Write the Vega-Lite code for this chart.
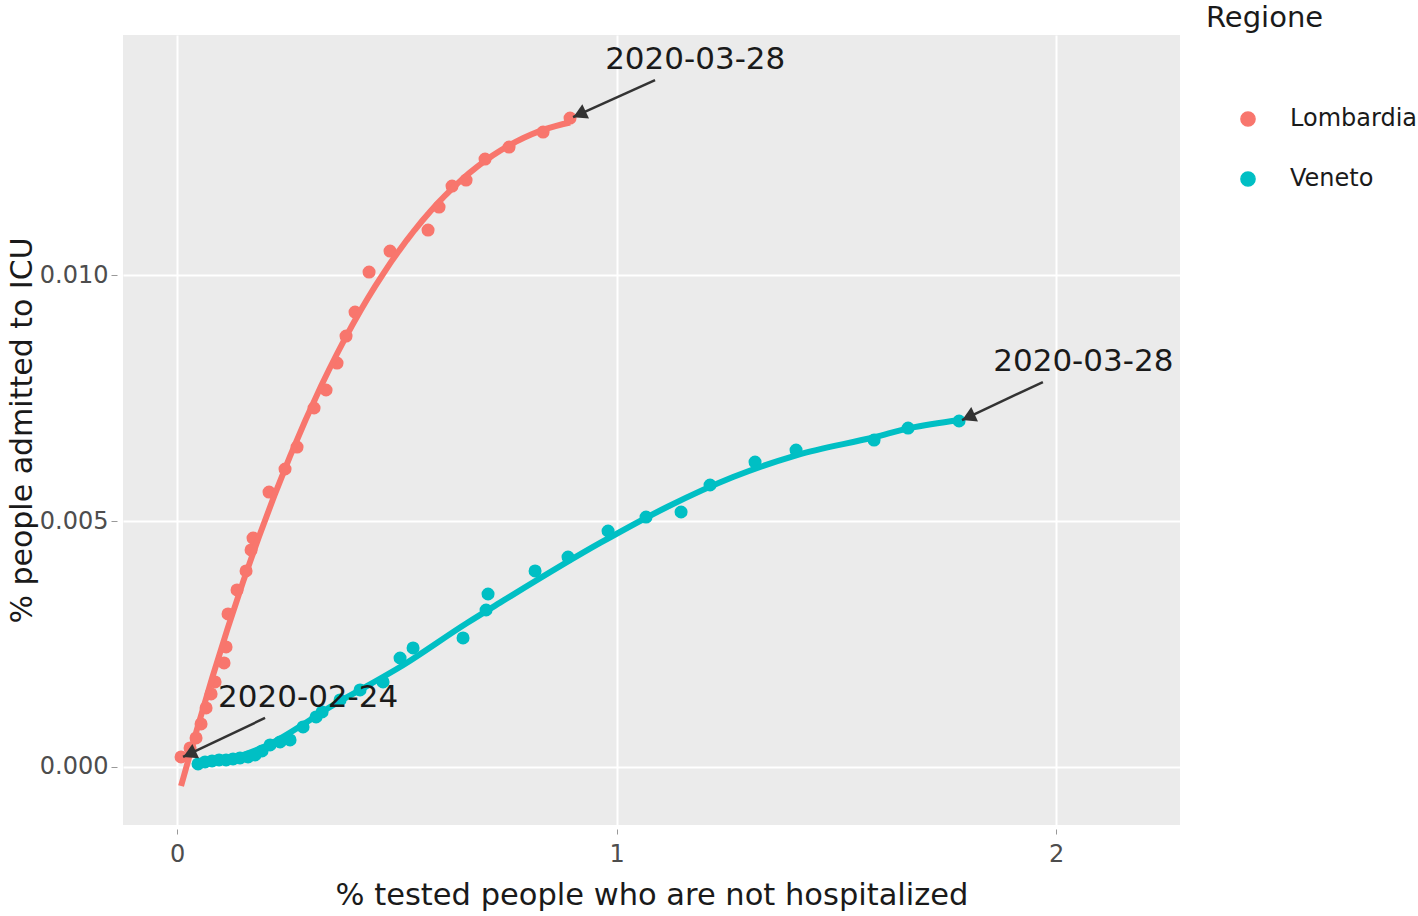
{
  "$schema": "https://vega.github.io/schema/vega-lite/v6.json",
  "width": 1057,
  "height": 790,
  "autosize": {"type": "none"},
  "padding": {"left": 123, "top": 35, "right": 238, "bottom": 91},
  "background": "white",
  "config": {
    "font": "DejaVu Sans",
    "view": {"fill": "#EBEBEB", "stroke": null},
    "axis": {"domain": false, "grid": true, "gridColor": "white", "gridWidth": 2, "tickColor": "#999999", "labelColor": "#4D4D4D", "titleColor": "#1a1a1a", "titleFontWeight": "normal"}
  },
  "datasets": {
    "pts": [
      {"Regione": "Lombardia", "x": 0.0091, "y": 0.000203},
      {"Regione": "Lombardia", "x": 0.0296, "y": 0.000386},
      {"Regione": "Lombardia", "x": 0.0432, "y": 0.000589},
      {"Regione": "Lombardia", "x": 0.0546, "y": 0.000874},
      {"Regione": "Lombardia", "x": 0.0660, "y": 0.001199},
      {"Regione": "Lombardia", "x": 0.0774, "y": 0.001484},
      {"Regione": "Lombardia", "x": 0.0865, "y": 0.001728},
      {"Regione": "Lombardia", "x": 0.1069, "y": 0.002114},
      {"Regione": "Lombardia", "x": 0.1115, "y": 0.002439},
      {"Regione": "Lombardia", "x": 0.1160, "y": 0.003110},
      {"Regione": "Lombardia", "x": 0.1365, "y": 0.003598},
      {"Regione": "Lombardia", "x": 0.1570, "y": 0.003984},
      {"Regione": "Lombardia", "x": 0.1684, "y": 0.004411},
      {"Regione": "Lombardia", "x": 0.1729, "y": 0.004654},
      {"Regione": "Lombardia", "x": 0.2093, "y": 0.005589},
      {"Regione": "Lombardia", "x": 0.2457, "y": 0.006057},
      {"Regione": "Lombardia", "x": 0.2730, "y": 0.006504},
      {"Regione": "Lombardia", "x": 0.3117, "y": 0.007297},
      {"Regione": "Lombardia", "x": 0.3390, "y": 0.007663},
      {"Regione": "Lombardia", "x": 0.3640, "y": 0.008211},
      {"Regione": "Lombardia", "x": 0.3845, "y": 0.008760},
      {"Regione": "Lombardia", "x": 0.4050, "y": 0.009248},
      {"Regione": "Lombardia", "x": 0.4369, "y": 0.010061},
      {"Regione": "Lombardia", "x": 0.4846, "y": 0.010488},
      {"Regione": "Lombardia", "x": 0.5711, "y": 0.010915},
      {"Regione": "Lombardia", "x": 0.5961, "y": 0.011382},
      {"Regione": "Lombardia", "x": 0.6257, "y": 0.011809},
      {"Regione": "Lombardia", "x": 0.6576, "y": 0.011931},
      {"Regione": "Lombardia", "x": 0.7008, "y": 0.012358},
      {"Regione": "Lombardia", "x": 0.7554, "y": 0.012602},
      {"Regione": "Lombardia", "x": 0.8328, "y": 0.012907},
      {"Regione": "Lombardia", "x": 0.8942, "y": 0.013191},
      {"Regione": "Veneto", "x": 0.0478, "y": 0.000061},
      {"Regione": "Veneto", "x": 0.0637, "y": 0.000102},
      {"Regione": "Veneto", "x": 0.0796, "y": 0.000122},
      {"Regione": "Veneto", "x": 0.0956, "y": 0.000142},
      {"Regione": "Veneto", "x": 0.1115, "y": 0.000142},
      {"Regione": "Veneto", "x": 0.1274, "y": 0.000163},
      {"Regione": "Veneto", "x": 0.1433, "y": 0.000183},
      {"Regione": "Veneto", "x": 0.1615, "y": 0.000203},
      {"Regione": "Veneto", "x": 0.1775, "y": 0.000244},
      {"Regione": "Veneto", "x": 0.1934, "y": 0.000325},
      {"Regione": "Veneto", "x": 0.2116, "y": 0.000447},
      {"Regione": "Veneto", "x": 0.2344, "y": 0.000508},
      {"Regione": "Veneto", "x": 0.2571, "y": 0.000549},
      {"Regione": "Veneto", "x": 0.2867, "y": 0.000813},
      {"Regione": "Veneto", "x": 0.3163, "y": 0.001016},
      {"Regione": "Veneto", "x": 0.3300, "y": 0.001118},
      {"Regione": "Veneto", "x": 0.3709, "y": 0.001362},
      {"Regione": "Veneto", "x": 0.4164, "y": 0.001565},
      {"Regione": "Veneto", "x": 0.4687, "y": 0.001728},
      {"Regione": "Veneto", "x": 0.5074, "y": 0.002215},
      {"Regione": "Veneto", "x": 0.5370, "y": 0.002419},
      {"Regione": "Veneto", "x": 0.6507, "y": 0.002622},
      {"Regione": "Veneto", "x": 0.7031, "y": 0.003191},
      {"Regione": "Veneto", "x": 0.7076, "y": 0.003516},
      {"Regione": "Veneto", "x": 0.8146, "y": 0.003984},
      {"Regione": "Veneto", "x": 0.8896, "y": 0.004268},
      {"Regione": "Veneto", "x": 0.9807, "y": 0.004797},
      {"Regione": "Veneto", "x": 1.0671, "y": 0.005081},
      {"Regione": "Veneto", "x": 1.1468, "y": 0.005183},
      {"Regione": "Veneto", "x": 1.2127, "y": 0.005732},
      {"Regione": "Veneto", "x": 1.3151, "y": 0.006199},
      {"Regione": "Veneto", "x": 1.4084, "y": 0.006443},
      {"Regione": "Veneto", "x": 1.5859, "y": 0.006646},
      {"Regione": "Veneto", "x": 1.6633, "y": 0.006890},
      {"Regione": "Veneto", "x": 1.7793, "y": 0.007033}
    ],
    "venetoFit": [
      {"Regione": "Veneto", "x": 0.0478, "y": 0.000041},
      {"Regione": "Veneto", "x": 0.1365, "y": 0.000203},
      {"Regione": "Veneto", "x": 0.2116, "y": 0.000467},
      {"Regione": "Veneto", "x": 0.3026, "y": 0.000955},
      {"Regione": "Veneto", "x": 0.3481, "y": 0.001220},
      {"Regione": "Veneto", "x": 0.4391, "y": 0.001680},
      {"Regione": "Veneto", "x": 0.5074, "y": 0.002033},
      {"Regione": "Veneto", "x": 0.6598, "y": 0.002927},
      {"Regione": "Veneto", "x": 0.7349, "y": 0.003340},
      {"Regione": "Veneto", "x": 0.9625, "y": 0.004553},
      {"Regione": "Veneto", "x": 1.1149, "y": 0.005285},
      {"Regione": "Veneto", "x": 1.2651, "y": 0.005894},
      {"Regione": "Veneto", "x": 1.4107, "y": 0.006341},
      {"Regione": "Veneto", "x": 1.5882, "y": 0.006707},
      {"Regione": "Veneto", "x": 1.6678, "y": 0.006890},
      {"Regione": "Veneto", "x": 1.7816, "y": 0.007053}
    ],
    "ann": [
      {"label": "2020-03-28", "tx": 1.0876, "ty": 0.013963, "hx": 0.901, "hy": 0.01321, "ax": 0.9156, "ay": 0.013269, "lx": 0.974, "ly": 0.01437},
      {"label": "2020-03-28", "tx": 1.970, "ty": 0.007825, "hx": 1.786, "hy": 0.007053, "ax": 1.8006, "ay": 0.007112, "lx": 1.857, "ly": 0.008232},
      {"label": "2020-02-24", "tx": 0.2002, "ty": 0.000996, "hx": 0.01365, "hy": 0.000203, "ax": 0.0283, "ay": 0.000262, "lx": 0.0933, "ly": 0.001402}
    ]
  },
  "layer": [
    {
      "data": {"name": "pts"},
      "mark": {"type": "point", "filled": true, "opacity": 1, "size": 170},
      "encoding": {
        "x": {"field": "x", "type": "quantitative", "title": "% tested people who are not hospitalized",
              "scale": {"domain": [-0.123, 2.282], "nice": false, "zero": false},
              "axis": {"values": [0, 1, 2], "format": ".0f", "labelFontSize": 24, "titleFontSize": 30.5, "tickSize": 5, "offset": 4, "labelPadding": 8, "titlePadding": 14}},
        "y": {"field": "y", "type": "quantitative", "title": "% people admitted to ICU",
              "scale": {"domain": [-0.00118, 0.01488], "nice": false, "zero": false},
              "axis": {"values": [0, 0.005, 0.01], "format": ".3f", "labelFontSize": 24, "titleFontSize": 30, "tickSize": 6, "offset": 6, "labelPadding": 3, "titlePadding": 2}},
        "color": {"field": "Regione", "type": "nominal",
                  "scale": {"domain": ["Lombardia", "Veneto"], "range": ["#F8766D", "#00BFC4"]},
                  "legend": {"orient": "none", "legendX": 1083, "legendY": -31, "title": "Regione", "titleFontSize": 29, "titleFontWeight": "normal", "titleColor": "#1a1a1a", "titlePadding": 74, "labelFontSize": 24, "labelColor": "#1a1a1a", "symbolType": "circle", "symbolSize": 200, "symbolOffset": 30, "labelOffset": 30, "rowPadding": 36, "padding": 0, "labelLimit": 200}}
      }
    },
    {
      "data": {"name": "pts"},
      "transform": [
        {"filter": "datum.Regione === 'Lombardia'"},
        {"regression": "y", "on": "x", "groupby": ["Regione"], "method": "poly", "order": 3}
      ],
      "mark": {"type": "line", "strokeWidth": 6},
      "encoding": {
        "x": {"field": "x", "type": "quantitative", "title": "% tested people who are not hospitalized"},
        "y": {"field": "y", "type": "quantitative", "title": "% people admitted to ICU"},
        "color": {"field": "Regione", "type": "nominal", "legend": null}
      }
    },
    {
      "data": {"name": "venetoFit"},
      "mark": {"type": "line", "strokeWidth": 6, "interpolate": "monotone"},
      "encoding": {
        "x": {"field": "x", "type": "quantitative", "title": "% tested people who are not hospitalized"},
        "y": {"field": "y", "type": "quantitative", "title": "% people admitted to ICU"},
        "color": {"field": "Regione", "type": "nominal", "legend": null}
      }
    },
    {
      "data": {"name": "ann"},
      "mark": {"type": "rule", "color": "#333333", "strokeWidth": 2.5},
      "encoding": {
        "x": {"field": "tx", "type": "quantitative", "title": "% tested people who are not hospitalized"},
        "y": {"field": "ty", "type": "quantitative", "title": "% people admitted to ICU"},
        "x2": {"field": "hx"},
        "y2": {"field": "hy"}
      }
    },
    {
      "data": {"name": "ann"},
      "mark": {"type": "point", "shape": "triangle-up", "filled": true, "opacity": 1, "color": "#333333", "size": 250, "angle": 245},
      "encoding": {
        "x": {"field": "ax", "type": "quantitative", "title": "% tested people who are not hospitalized"},
        "y": {"field": "ay", "type": "quantitative", "title": "% people admitted to ICU"}
      }
    },
    {
      "data": {"name": "ann"},
      "mark": {"type": "text", "align": "left", "baseline": "middle", "fontSize": 31, "color": "#1a1a1a"},
      "encoding": {
        "x": {"field": "lx", "type": "quantitative", "title": "% tested people who are not hospitalized"},
        "y": {"field": "ly", "type": "quantitative", "title": "% people admitted to ICU"},
        "text": {"field": "label"}
      }
    }
  ]
}
